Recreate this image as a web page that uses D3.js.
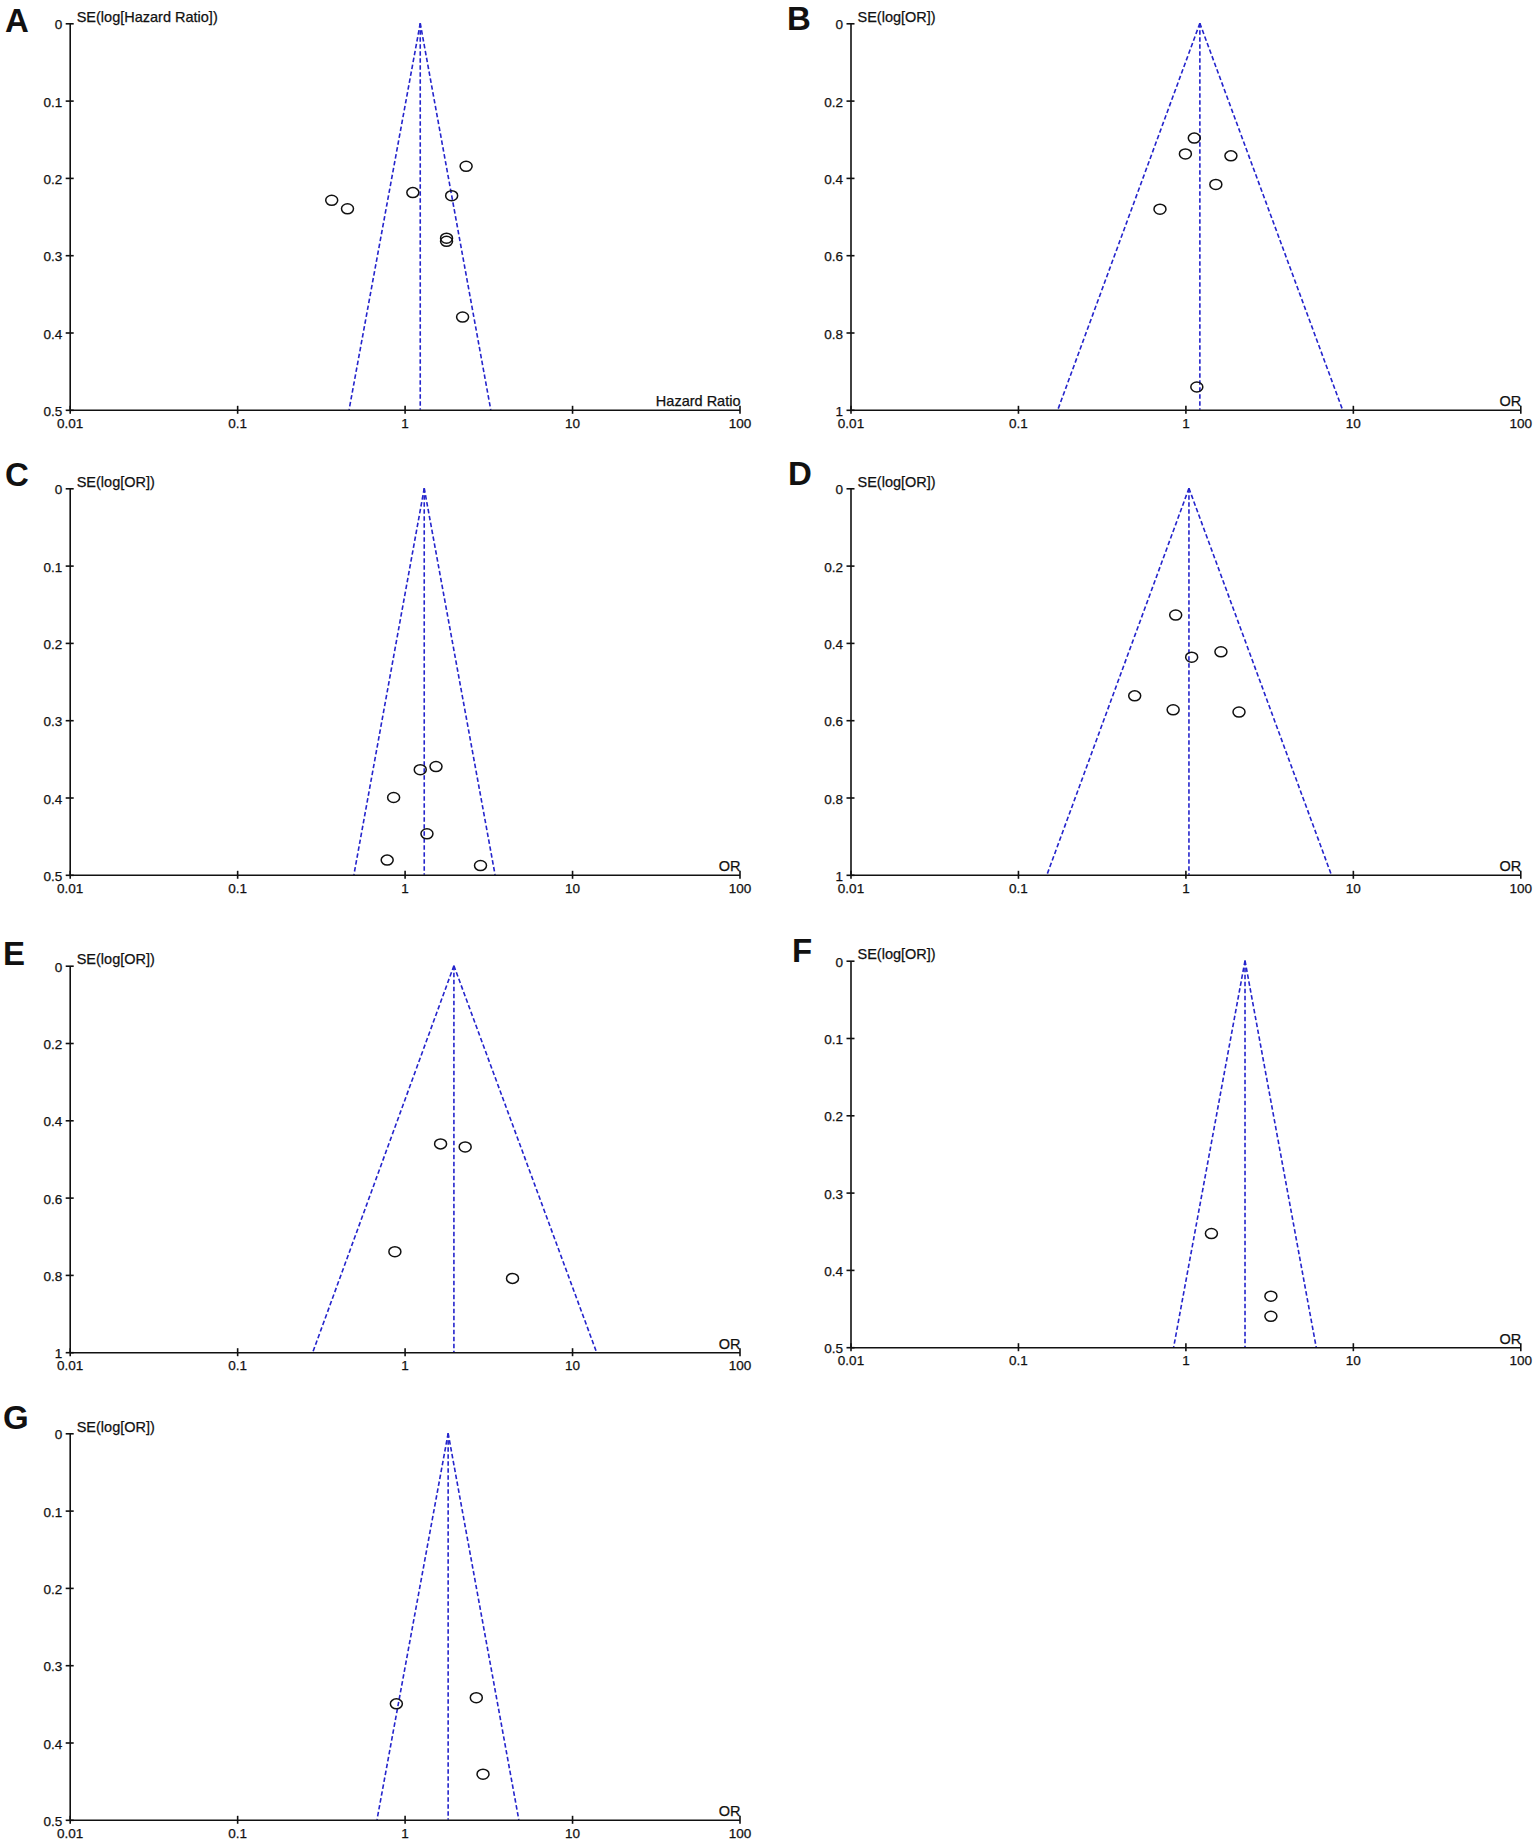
<!DOCTYPE html>
<html>
<head>
<meta charset="utf-8">
<script src="https://cdn.jsdelivr.net/npm/d3@7"></script>
<style>
body { margin: 0; background: #fff; }
text { font-family: Arial, "Liberation Sans", sans-serif; fill: #111; }
</style>
</head>
<body>
<script>
// funnel plots, one per panel
const panelLetters = ["A", "B", "C", "D", "E", "F", "G"];
const yTitles = ["SE(log[Hazard Ratio])", "SE(log[OR])", "SE(log[OR])", "SE(log[OR])", "SE(log[OR])", "SE(log[OR])", "SE(log[OR])"];
const xTitles = ["Hazard Ratio", "OR", "OR", "OR", "OR", "OR", "OR"];
const seMax = [0.5, 1, 0.5, 1, 1, 0.5, 0.5];
const seTicks = [
    [0, 0.1, 0.2, 0.3, 0.4, 0.5],
    [0, 0.2, 0.4, 0.6, 0.8, 1],
    [0, 0.1, 0.2, 0.3, 0.4, 0.5],
    [0, 0.2, 0.4, 0.6, 0.8, 1],
    [0, 0.2, 0.4, 0.6, 0.8, 1],
    [0, 0.1, 0.2, 0.3, 0.4, 0.5],
    [0, 0.1, 0.2, 0.3, 0.4, 0.5]
];
const xTicks = [0.01, 0.1, 1, 10, 100];
const xTickLabels = ["0.01", "0.1", "1", "10", "100"];

// pooled estimate and funnel limits at the bottom of each panel
const pooled = [1.24, 1.22, 1.31, 1.05, 1.97, 2.27, 1.82];
const funnelLow = [0.466, 0.173, 0.498, 0.149, 0.283, 0.851, 0.684];
const funnelHigh = [3.27, 8.68, 3.47, 7.44, 14.0, 6.04, 4.81];

// studies: [ratio, SE]
const studiesA = [[2.33, 0.185], [1.12, 0.219], [1.91, 0.223], [0.367, 0.229], [0.456, 0.240], [1.78, 0.278], [1.78, 0.282], [2.22, 0.380]];
const studiesB = [[1.13, 0.297], [1.00, 0.338], [1.87, 0.343], [1.52, 0.417], [0.705, 0.481], [1.17, 0.941]];
const studiesC = [[1.24, 0.364], [1.54, 0.360], [0.86, 0.400], [1.36, 0.447], [0.787, 0.481], [2.84, 0.488]];
const studiesD = [[0.875, 0.328], [1.63, 0.423], [1.09, 0.437], [0.498, 0.537], [0.845, 0.573], [2.09, 0.579]];
const studiesE = [[1.64, 0.461], [2.30, 0.469], [0.875, 0.740], [4.41, 0.809]];
const studiesF = [[1.43, 0.353], [3.24, 0.434], [3.24, 0.460]];
const studiesG = [[0.893, 0.350], [2.68, 0.342], [2.94, 0.441]];
const studies = [studiesA, studiesB, studiesC, studiesD, studiesE, studiesF, studiesG];

// panel placement
const layout = [
    {x: 69.7, y: 23.3, lx: 5, ly: 32},
    {x: 850.5, y: 23.3, lx: 787, ly: 30},
    {x: 69.7, y: 488.3, lx: 5, ly: 486},
    {x: 850.5, y: 488.3, lx: 788, ly: 485},
    {x: 69.7, y: 965.7, lx: 3, ly: 965},
    {x: 850.5, y: 960.7, lx: 792, ly: 962},
    {x: 69.7, y: 1433.3, lx: 3, ly: 1429}
];
const pw = 669.8, ph = 386.5;
const blue = "#2424cc";

const svg = d3.select("body").append("svg")
    .attr("width", 1535).attr("height", 1840)
    .style("background", "#fff");

panelLetters.forEach((letter, i) => {
    const pos = layout[i];

    svg.append("text")
        .attr("x", pos.lx).attr("y", pos.ly)
        .style("font-size", "33px").style("font-weight", "bold")
        .text(letter);

    const g = svg.append("g").attr("transform", `translate(${pos.x},${pos.y})`);

    const x = d3.scaleLog().domain([0.01, 100]).range([0, pw]);
    const y = d3.scaleLinear().domain([0, seMax[i]]).range([0, ph]);

    // funnel
    const dash = g.append("g")
        .attr("fill", "none").attr("stroke", blue)
        .attr("stroke-width", 1.6).attr("stroke-dasharray", "4.5,2.5");
    dash.append("line")
        .attr("x1", x(pooled[i])).attr("y1", y(0))
        .attr("x2", x(pooled[i])).attr("y2", y(seMax[i]));
    dash.append("line")
        .attr("x1", x(pooled[i])).attr("y1", y(0))
        .attr("x2", x(funnelLow[i])).attr("y2", y(seMax[i]));
    dash.append("line")
        .attr("x1", x(pooled[i])).attr("y1", y(0))
        .attr("x2", x(funnelHigh[i])).attr("y2", y(seMax[i]));

    // axes
    const xAxis = g.append("g")
        .attr("transform", `translate(0,${ph})`)
        .call(d3.axisBottom(x).tickValues(xTicks)
            .tickFormat((d, k) => xTickLabels[k])
            .tickSize(4).tickSizeOuter(0).tickPadding(4.5));
    xAxis.selectAll(".tick line").attr("y1", -4).attr("y2", 4);

    const yAxis = g.append("g")
        .call(d3.axisLeft(y).tickValues(seTicks[i])
            .tickFormat(d3.format("~g"))
            .tickSize(4).tickSizeOuter(0).tickPadding(3.5));
    yAxis.selectAll(".tick line").attr("x1", -4).attr("x2", 4);
    yAxis.selectAll(".tick text").attr("dy", "0.42em");

    g.selectAll(".domain, .tick line").attr("stroke", "#111").attr("stroke-width", 1.6);
    g.selectAll(".tick text")
        .style("font-size", "13.5px")
        .style("font-family", "Arial, 'Liberation Sans', sans-serif")
        .attr("fill", "#111").attr("stroke", "#111").attr("stroke-width", 0.25);

    // titles
    g.append("text")
        .attr("x", 7).attr("y", -1.6)
        .style("font-size", "14.5px")
        .attr("stroke", "#111").attr("stroke-width", 0.25)
        .text(yTitles[i]);
    g.append("text")
        .attr("x", pw + 1).attr("y", ph - 3.5)
        .attr("text-anchor", "end")
        .style("font-size", "14.5px")
        .attr("stroke", "#111").attr("stroke-width", 0.25)
        .text(xTitles[i]);

    // studies
    g.selectAll("ellipse.study")
        .data(studies[i]).enter()
        .append("ellipse")
        .attr("class", "study")
        .attr("cx", d => x(d[0])).attr("cy", d => y(d[1]))
        .attr("rx", 6).attr("ry", 5)
        .attr("fill", "none").attr("stroke", "#111").attr("stroke-width", 1.5);
});
</script>
</body>
</html>
